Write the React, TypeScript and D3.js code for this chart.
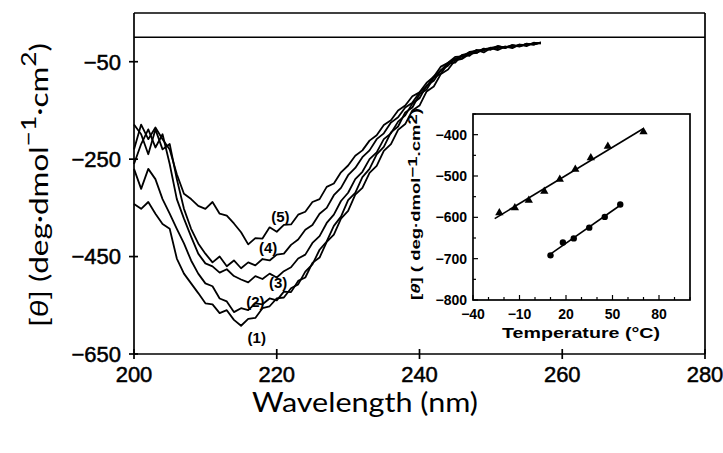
import React from "react";
import * as d3 from "d3";

// CD spectra, one reading per nm from 200 to 257 nm, mean residue ellipticity
const wavelengths = d3.range(200, 258);
const spectrum1 = [-342,-352,-338,-362,-383,-393,-454,-485,-505,-525,-546,-548,-566,-560,-580,-592,-578,-576,-556,-552,-536,-534,-515,-507,-481,-466,-436,-419,-387,-368,-334,-319,-287,-270,-240,-225,-195,-183,-154,-144,-117,-107,-83,-74,-54,-52,-36,-38,-26,-31,-22,-26,-19,-22,-15,-18,-11,-13];
const spectrum2 = [-270,-311,-270,-291,-332,-362,-393,-423,-458,-485,-505,-511,-536,-542,-564,-556,-560,-546,-548,-536,-540,-522,-523,-500,-493,-463,-452,-420,-405,-372,-356,-323,-309,-278,-264,-233,-219,-190,-178,-150,-140,-111,-101,-75,-66,-47,-44,-34,-32,-24,-25,-19,-22,-17,-18,-14,-14,-11];
const spectrum3 = [-260,-219,-189,-226,-199,-260,-332,-372,-409,-444,-464,-470,-483,-476,-490,-497,-503,-490,-496,-485,-493,-480,-472,-454,-446,-422,-408,-381,-364,-336,-319,-291,-276,-250,-236,-209,-197,-173,-160,-136,-125,-99,-89,-67,-58,-43,-42,-31,-32,-23,-25,-18,-21,-16,-19,-13,-15,-10];
const spectrum4 = [-179,-199,-240,-189,-230,-219,-291,-352,-393,-423,-444,-462,-450,-470,-458,-474,-462,-468,-455,-458,-446,-444,-426,-415,-395,-385,-362,-350,-324,-309,-283,-268,-246,-232,-209,-197,-175,-164,-144,-134,-113,-101,-80,-68,-52,-45,-36,-33,-26,-27,-21,-22,-19,-20,-15,-16,-12,-12];
const spectrum5 = [-230,-179,-209,-185,-209,-230,-281,-321,-332,-346,-352,-338,-362,-366,-382,-400,-425,-412,-413,-390,-399,-385,-384,-364,-358,-338,-332,-307,-300,-277,-263,-243,-232,-212,-201,-180,-170,-150,-140,-121,-113,-93,-81,-60,-52,-40,-39,-30,-28,-24,-22,-18,-21,-16,-18,-14,-15,-11];
const spectra = [spectrum1, spectrum2, spectrum3, spectrum4, spectrum5];

// curve tags, anchored in data units
const curveTags = ["(1)", "(2)", "(3)", "(4)", "(5)"];
const tagWavelengths = [217.2, 217.0, 220.2, 218.8, 220.5];
const tagValues = [-617, -543, -504, -432, -369];

const xTicks = [200, 220, 240, 260, 280];
const yTicks = [-50, -250, -450, -650];

// inset: ellipticity against temperature
const tempsTriangle = [-23, -13, -4, 6, 16, 26, 36, 47, 70];
const valuesTriangle = [-589, -577, -559, -537, -508, -484, -456, -428, -393];
const tempsCircle = [10, 18, 25, 35, 45, 55];
const valuesCircle = [-692, -661, -651, -625, -599, -569];
const insetXTicks = [-40, -10, 20, 50, 80];
const insetYTicks = [-800, -700, -600, -500, -400];

function fit(xs: number[], ys: number[]) {
  const mx = d3.mean(xs)!;
  const my = d3.mean(ys)!;
  let num = 0, den = 0;
  xs.forEach((x, i) => { num += (x - mx) * (ys[i] - my); den += (x - mx) * (x - mx); });
  const b = num / den;
  const a = my - b * mx;
  return (x: number) => a + b * x;
}

const minus = (v: number) => (v < 0 ? `\u2212${-v}` : `${v}`);

export default function App() {
  const x = d3.scaleLinear().domain([200, 280]).range([134, 705]);
  const y = d3.scaleLinear().domain([-650, 50]).range([354, 13]);
  const line = d3.line<number>().x((_, i) => x(wavelengths[i])).y((v) => y(v));

  const ix = d3.scaleLinear().domain([-40, 100]).range([473, 690]);
  const iy = d3.scaleLinear().domain([-800, -350]).range([300, 114]);
  const fitT = fit(tempsTriangle, valuesTriangle);
  const fitC = fit(tempsCircle, valuesCircle);
  const tri = d3.symbol().type(d3.symbolTriangle).size(30)();

  const tickFont = { fontFamily: "Liberation Sans, Arial, sans-serif", fontSize: 22, fill: "#000", stroke: "#000", strokeWidth: 0.5 };
  const insetFont = { fontFamily: "Liberation Sans, Arial, sans-serif", fontSize: 14, fontWeight: 700, fill: "#000" };

  const insetMinorX = d3.range(-40, 101, 10);
  const insetMinorY = d3.range(-800, -349, 50);

  return (
    <svg width={723} height={453} style={{ position: "absolute", left: 0, top: 0, background: "#fff" }}>
      <rect width={723} height={453} fill="#fff" />
      {/* main frame */}
      <g stroke="#000" strokeWidth={1.7} fill="none">
        <line x1={x(200)} x2={x(280)} y1={y(50)} y2={y(50)} />
        <line x1={x(200)} x2={x(280)} y1={y(-650)} y2={y(-650)} />
        <line x1={x(200)} x2={x(200)} y1={y(50)} y2={y(-650)} />
        <line x1={x(280)} x2={x(280)} y1={y(50)} y2={y(-650)} />
        <line x1={x(200)} x2={x(280)} y1={y(0)} y2={y(0)} strokeWidth={1.5} />
        {xTicks.map((t) => (
          <line key={t} x1={x(t)} x2={x(t)} y1={y(-650) - 5} y2={y(-650) + 5} />
        ))}
        {yTicks.map((t) => (
          <line key={t} x1={x(200) - 5} x2={x(200) + 4} y1={y(t)} y2={y(t)} />
        ))}
      </g>
      {xTicks.map((t) => (
        <text key={t} x={x(t)} y={382} textAnchor="middle" {...tickFont}>{t}</text>
      ))}
      {yTicks.map((t) => (
        <text key={t} x={121} y={y(t)} dy="0.36em" textAnchor="end" {...tickFont}>{minus(t)}</text>
      ))}

      {/* spectra */}
      <g fill="none" stroke="#000" strokeWidth={1.8} strokeLinejoin="round">
        {spectra.map((s, i) => (
          <path key={i} d={line(s)!} />
        ))}
      </g>
      {curveTags.map((t, i) => (
        <text key={t} x={x(tagWavelengths[i])} y={y(tagValues[i])} dy="0.35em" textAnchor="middle"
          fontFamily="Liberation Sans, Arial, sans-serif" fontSize={15} fontWeight={700}>{t}</text>
      ))}

      {/* axis titles */}
      <text x={365} y={412} textAnchor="middle" fontFamily="Lato, sans-serif" fontSize={26} textLength={226} lengthAdjust="spacingAndGlyphs">Wavelength (nm)</text>
      <text transform="translate(48,185) rotate(-90)" textAnchor="middle" fontFamily="Lato, sans-serif" fontSize={25} textLength={284} lengthAdjust="spacingAndGlyphs">
        <tspan>[</tspan><tspan fontStyle="italic">θ</tspan><tspan>] (deg·dmol</tspan>
        <tspan dy={-12} fontSize={21}>−1</tspan>
        <tspan dy={12}>·cm</tspan>
        <tspan dy={-12} fontSize={21}>2</tspan>
        <tspan dy={12}>)</tspan>
      </text>

      {/* inset */}
      <rect x={ix(-40)} y={iy(-350)} width={ix(100) - ix(-40)} height={iy(-800) - iy(-350)} fill="#fff" stroke="#000" strokeWidth={1.7} />
      <g stroke="#000" strokeWidth={1.2}>
        {insetMinorX.map((t) => (
          <line key={t} x1={ix(t)} x2={ix(t)} y1={iy(-800)} y2={iy(-800) - (insetXTicks.includes(t) ? 5 : 3)} />
        ))}
        {insetMinorY.map((t) => (
          <line key={t} x1={ix(-40)} x2={ix(-40) + (insetYTicks.includes(t) ? 5 : 3)} y1={iy(t)} y2={iy(t)} />
        ))}
      </g>
      {insetXTicks.map((t) => (
        <text key={t} x={ix(t)} y={iy(-800) + 19} textAnchor="middle" {...insetFont}>{minus(t)}</text>
      ))}
      {insetYTicks.map((t) => (
        <text key={t} x={467} y={iy(t)} dy="0.36em" textAnchor="end" {...insetFont}>{minus(t)}</text>
      ))}
      <text x={581} y={338} textAnchor="middle" {...insetFont} fontSize={15} textLength={158} lengthAdjust="spacingAndGlyphs">Temperature  (°C)</text>
      <text transform="translate(420,204) rotate(-90)" textAnchor="middle" {...insetFont} fontSize={13} textLength={192} lengthAdjust="spacingAndGlyphs">
        <tspan>[</tspan><tspan fontStyle="italic">θ</tspan><tspan>]  ( deg·dmol</tspan>
        <tspan dy={-3}>−1</tspan>
        <tspan dy={3}>.cm</tspan>
        <tspan dy={-3}>2</tspan>
        <tspan dy={3}>)</tspan>
      </text>
      <g stroke="#000" strokeWidth={1.6}>
        <line x1={ix(tempsTriangle[0] - 3)} y1={iy(fitT(tempsTriangle[0] - 3))} x2={ix(tempsTriangle[tempsTriangle.length - 1])} y2={iy(fitT(tempsTriangle[tempsTriangle.length - 1]))} />
        <line x1={ix(tempsCircle[0] - 1)} y1={iy(fitC(tempsCircle[0] - 1))} x2={ix(tempsCircle[tempsCircle.length - 1])} y2={iy(fitC(tempsCircle[tempsCircle.length - 1]))} />
      </g>
      {tempsTriangle.map((t, i) => (
        <path key={t} d={tri!} transform={`translate(${ix(t)},${iy(valuesTriangle[i])})`} fill="#000" />
      ))}
      {tempsCircle.map((t, i) => (
        <circle key={t} cx={ix(t)} cy={iy(valuesCircle[i])} r={3.2} fill="#000" />
      ))}
    </svg>
  );
}
